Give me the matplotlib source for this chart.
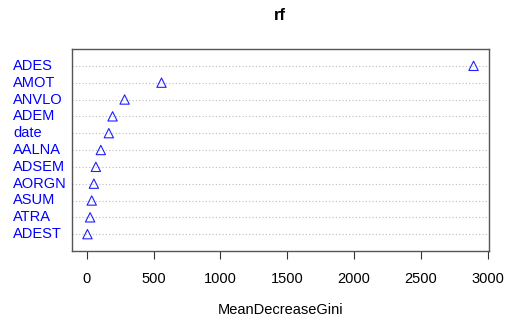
import matplotlib
matplotlib.use("Agg")
import matplotlib.pyplot as plt
import matplotlib.transforms as mtransforms

plt.rcParams['font.family'] = ['Liberation Sans', 'DejaVu Sans']

# variable importance, top to bottom
labels = ['ADES', 'AMOT', 'ANVLO', 'ADEM', 'date', 'AALNA', 'ADSEM', 'AORGN', 'ASUM', 'ATRA', 'ADEST']
gini = [2893, 559, 283, 193, 165, 105, 68, 53, 37, 25, 5]
xticks = [0, 500, 1000, 1500, 2000, 2500, 3000]

fig = plt.figure(figsize=(5.05, 3.2), dpi=100)
ax = fig.add_axes([72/505, 1-251/320, (489-72)/505, (251-49)/320])

n = len(labels)
ypos = list(range(n, 0, -1))

lo, hi = min(gini), max(gini)
pad = (hi - lo) * 0.04
ax.set_xlim(lo - pad, hi + pad)
ax.set_ylim(0, n + 1)

for y in ypos:
    ax.axhline(y, color='#bbbbbb', lw=0.8, ls=(0, (1, 2)), zorder=1)
ax.scatter(gini, ypos, marker='^', s=45, facecolors='none', edgecolors='#2020ff', linewidths=0.8, zorder=3)

trans = mtransforms.blended_transform_factory(fig.transFigure, ax.transData)
for lab, y in zip(labels, ypos):
    ax.text(13/505, y, lab, transform=trans, color='#0000ff', fontsize=10.5, ha='left', va='center')

ax.set_yticks([])
ax.set_xticks(xticks)
ax.tick_params(axis='x', direction='out', length=6, width=0.8, color='#333333', labelsize=10.5, pad=9)
for s in ax.spines.values():
    s.set_color('#555555')
    s.set_linewidth(1.0)

ax.set_xlabel('MeanDecreaseGini', fontsize=10.5, labelpad=12)
fig.text(280/505, 1-15/320, 'rf', fontsize=12, fontweight='bold', ha='center', va='center')

fig.savefig('out.png', dpi=100)
